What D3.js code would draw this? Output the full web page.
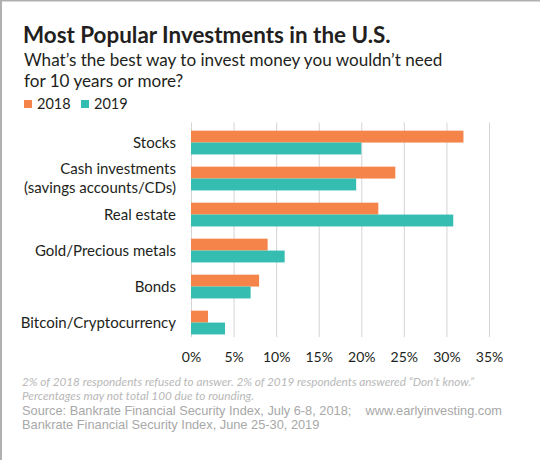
<!DOCTYPE html>
<html><head><meta charset="utf-8">
<script src="https://cdnjs.cloudflare.com/ajax/libs/d3/7.8.5/d3.min.js"></script>
<style>
html,body{margin:0;padding:0;background:#fff;}
svg{display:block;}
</style></head>
<body>
<script>
const categories = [["Stocks"],["Cash investments","(savings accounts/CDs)"],["Real estate"],["Gold/Precious metals"],["Bonds"],["Bitcoin/Cryptocurrency"]];
const seriesNames = ["2018","2019"];
const values2018 = [32, 24, 22, 9, 8, 2];
const values2019 = [20, 19.4, 30.8, 11, 7, 4];
const tickValues = [0,5,10,15,20,25,30,35];
const colors = ["#F5844A","#35BDB1"];

const W=540,H=460;
const svg=d3.select("body").append("svg").attr("width",W).attr("height",H);
const font="Lato, 'Noto Sans', sans-serif";
const sfont="'Liberation Sans', Arial, sans-serif";

// border
svg.append("rect").attr("x",0).attr("y",0).attr("width",W).attr("height",1.5).attr("fill","#b0b0b0");
svg.append("rect").attr("x",0).attr("y",0).attr("width",2).attr("height",H).attr("fill","#b0b0b0");

svg.append("text").attr("x",23).attr("y",43).attr("font-family",font).attr("font-weight",700)
  .attr("font-size",22.4).attr("fill","#231f20").text("Most Popular Investments in the U.S.");
svg.append("text").attr("x",24).attr("y",66).attr("font-family",font).attr("font-size",17.1)
  .attr("fill","#231f20").text("What\u2019s the best way to invest money you wouldn\u2019t need");
svg.append("text").attr("x",24).attr("y",87).attr("font-family",font).attr("font-size",17.1)
  .attr("fill","#231f20").text("for 10 years or more?");

// legend
const lg=svg.append("g");
seriesNames.forEach((s,i)=>{
  const x0= i===0?24:81;
  lg.append("rect").attr("x",x0).attr("y",100).attr("width",8).attr("height",8).attr("fill",colors[i]);
  lg.append("text").attr("x",x0+13).attr("y",108.5).attr("font-family",font).attr("font-size",14.5)
    .attr("fill","#231f20").text(s);
});

const x=d3.scaleLinear().domain([0,35]).range([191,489]);
const y=d3.scaleBand().domain(d3.range(categories.length)).range([123,337]).paddingInner(0.34).paddingOuter(0.142).align(0.75);
const ySub=d3.scaleBand().domain([0,1]).range([0,y.bandwidth()]);

// grid via axis
const ax=svg.append("g").attr("transform","translate(0,337)")
  .call(d3.axisBottom(x).tickValues(tickValues).tickSize(-(337-122.5)).tickFormat(d=>d+"%"));
ax.select(".domain").remove();
ax.selectAll(".tick line").attr("stroke","#d4d4d4").attr("stroke-width",1);
ax.selectAll(".tick text").attr("font-family",font).attr("font-size",14).attr("fill","#231f20").attr("dy",0).attr("y",24.5);

const data=categories.map((c,i)=>({c,i,v:[values2018[i],values2019[i]]}));
const g=svg.append("g");
data.forEach(d=>{
  d.v.forEach((v,k)=>{
    g.append("rect").attr("x",x(0)).attr("y",y(d.i)+ySub(k)).attr("width",x(v)-x(0))
      .attr("height",ySub.bandwidth()).attr("fill",colors[k]);
  });
  const cy=y(d.i)+y.bandwidth()/2;
  const n=d.c.length;
  d.c.forEach((line,j)=>{
    g.append("text").attr("x",176).attr("y",cy+(j-(n-1)/2)*18.5+5).attr("text-anchor","end")
      .attr("font-family",font).attr("font-size",15).attr("fill","#231f20").text(line);
  });
});

// footnotes
svg.append("text").attr("x",22).attr("y",386).attr("font-family",font).attr("font-style","italic")
  .attr("font-size",11.75).attr("fill","#b8b8b8").text("2% of 2018 respondents refused to answer. 2% of 2019 respondents answered \u201cDon\u2019t know.\u201d");
svg.append("text").attr("x",22).attr("y",400).attr("font-family",font).attr("font-style","italic")
  .attr("font-size",11.75).attr("fill","#b8b8b8").text("Percentages may not total 100 due to rounding.");
svg.append("text").attr("x",22).attr("y",415).attr("font-family",sfont)
  .attr("font-size",12.8).attr("fill","#a8a8a8").text("Source: Bankrate Financial Security Index, July 6-8, 2018;");
svg.append("text").attr("x",502).attr("y",415).attr("text-anchor","end").attr("font-family",sfont)
  .attr("font-size",12.8).attr("fill","#a8a8a8").text("www.earlyinvesting.com");
svg.append("text").attr("x",22).attr("y",428.5).attr("font-family",sfont)
  .attr("font-size",12.8).attr("fill","#a8a8a8").text("Bankrate Financial Security Index, June 25-30, 2019");
</script>
</body></html>
